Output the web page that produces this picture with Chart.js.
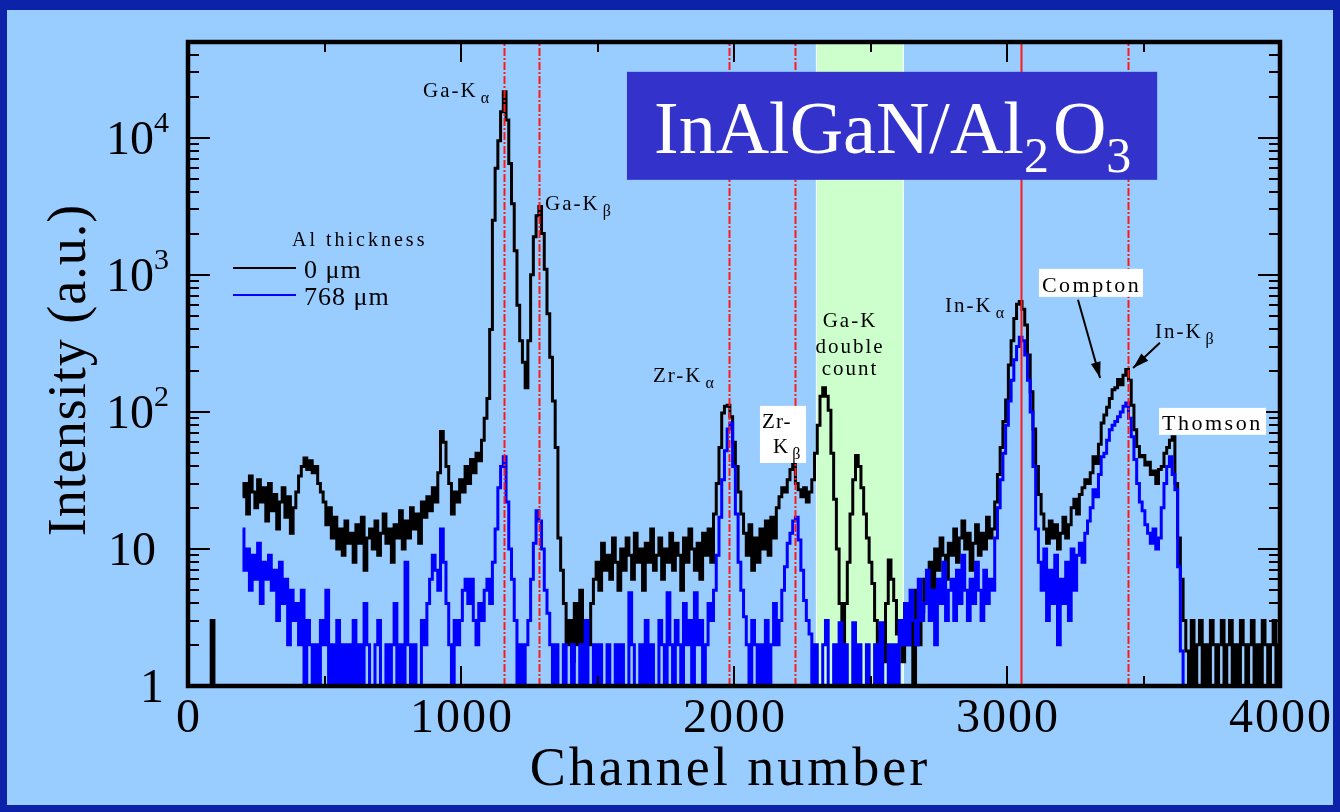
<!DOCTYPE html>
<html>
<head>
<meta charset="utf-8">
<script src="https://cdn.jsdelivr.net/npm/chart.js@4.4.1/dist/chart.umd.min.js"></script>
<style>
  html, body { margin: 0; padding: 0; background: #0c22a8; }
  #wrap { width: 1340px; height: 812px; }
</style>
</head>
<body>
<div id="wrap"><canvas id="spectrum" width="1340" height="812"></canvas></div>
<script>
// spectra, one value every 10 channels (0.5 = empty channel, below the axis)
const start0 = 80;
const step = 10;
const counts0um = [
  0.5,3,0.5,null,null,null,null,null,null,null,null,null,
  24,30,18,34,26,20,32,22,28,16, 30,19,25,14,22,28,17,24,13,20,
  26,34,40,46,38,44,36,40,30,26, 22,15,20,12,17,10,14,9,16,11,
  13,8,15,11,17,7,12,14,10,16, 9,13,18,11,14,8,15,12,19,10,
  16,12,20,14,18,11,22,17,24,19, 28,22,36,72,60,40,30,18,26,22,
  32,26,40,30,45,36,50,44,62,90, 125,400,2500,6000,9500,15500,21700,13500,6500,3300,
  1500,600,330,230,150,330,1000,1900,2700,3150, 2000,1100,520,250,120,55,12,7,4,2,
  3,1.5,4,2,5,1,3,2,4,6, 8,5,11,7,9,6,12,8,5,10,
  7,12,9,6,13,8,10,5,11,8, 14,7,9,12,6,10,8,13,7,11,
  9,5,12,8,14,10,7,11,6,13, 9,14,8,18,30,55,98,110,112,92,
  60,40,26,18,13,9,15,7,12,8, 14,10,16,9,17,12,20,24,28,26,
  32,38,42,30,27,24,28,22,26,32, 50,80,130,150,130,103,50,23,10,4,
  1.8,4,8,18,32,48,40,28,18,12, 8,5.6,3,1,2.5,1.5,4,8.3,6,4.2,
  2.4,3,1.5,4,2,3,1,5,2,3.5, 6,4,8,5,10,7,12,9,6,11,
  9,14,8,12,16,10,13,7,11,15, 9,13,10,17,12,14,22,35,55,85,
  122,220,330,480,610,640,560,430,260,140, 75,40,25,18,14,11,16,12,15,10,
  13,17,12,15,20,23,18,25,28,32, 30,36,47,42,58,83,95,108,125,145,
  150,172,158,185,204,170,112,74,56,47, 48,41,43,35,37,30,38,40,50,55,
  62,66,30,12,6,3,1.8,1,3,1, 2,3,1,2,1,3,2,1,2,3,
  1,2,3,1,2,1,3,2,1,2, 3,1,2,1,3,2,1,2,3,1,
  2
];
const start768 = 200;
const counts768um = [
  14,7,10,5,9,6,11,4,8,6, 9,5,7,3,8,4,6,2,5,3,
  4,2,5,1,3,2,0.5,2,1,3, 2,5,1,2,0.5,3,1,2,0.5,2,
  1,3,0.5,2,1,4,2,0.5,1,2, 3,1,0.5,2,1,2,4,1,2,0.5,
  8,2,1,2,0.5,1,3,2,4,6, 9,7,5,14,8,4,2,1,3,2,
  3,5,6,4,6,3,2,4,3,5, 6,4,8,14,28,40,47,22,10,6,
  3,1,2,0.5,2,3,6,11,19,16, 10,5,3.4,2,1,2,0.5,1,2,1,
  0.5,2,1,0.5,2,1,3,1,0.5,2, 1,2,0.5,1,2,1,0.5,2,1,2,
  1,0.5,4.8,2,1,0.5,2,1,3,1, 2,0.5,1,3,2,1,4.8,2,1,3,
  2,1,4,2,3,1,4.8,2,3,1, 2,4,3,5,9,17,32,52,75,83,
  40,18,8,5,3.2,2,1,3,2,1, 2,0.5,3,1,2,4,2,3,5,7.4,
  11,13,16,17,11.6,7,4.2,3,2.4,1, 2,0.5,1,2,3,1,0.5,2,1,2.9,
  1,2,0.5,1,2.9,1,2,0.5,1,2, 1,0.5,2,1,2.9,1,0.5,2,1,2,
  1,3,2,4,2,5,3,2,6,3, 4,7,3,5,2,6,4,8,3,5,
  6,3,7,4,9,5,3,6,4,8, 5,3,7,4,6,5,12,20,32,50,
  80,120,170,240,300,350,330,260,170,100, 40,14,8,5,10,3,7,4,9,2,
  6,4,8,3,10,5,9,11,8,13, 16,20,27,24,35,47,50,62,74,80,
  85,92,100,110,116,90,66,45,30,22, 19,15,13,11,14,10,12,20,30,40,
  47,35,27,7.4,1.8,0.5,0.5
];

// line positions (channel), the In-Ka one is solid
const lineChannels = [1157, 1286, 1982, 2223, 3051, 3443];
const solidLines = [3051];
const doubleCountBand = [2300, 2622];
const xTickValues = [0, 1000, 2000, 3000, 4000];
const yDecades = [0, 1, 2, 3, 4];

const toPoints = (first, values) => values.map((v, i) => ({ x: first + i * step, y: v }));

const serif = '"Liberation Serif", "DejaVu Serif", serif';
const font = (size) => size + 'px ' + serif;

const pageBackground = {
  id: 'pageBackground',
  beforeDraw(chart) {
    const ctx = chart.ctx;
    ctx.save();
    ctx.fillStyle = '#0c22a8';
    ctx.fillRect(0, 0, chart.width, chart.height);
    ctx.fillStyle = '#99ccff';
    ctx.fillRect(7, 10, 1326, 795);
    ctx.restore();
  },
  beforeDatasetsDraw(chart) {
    const { ctx, chartArea: a, scales: { x } } = chart;
    ctx.save();
    const x0 = x.getPixelForValue(doubleCountBand[0]);
    const x1 = x.getPixelForValue(doubleCountBand[1]);
    ctx.fillStyle = '#ccffcc';
    ctx.fillRect(x0, a.top, x1 - x0, a.bottom - a.top);
    ctx.strokeStyle = '#ffffff';
    ctx.lineWidth = 1;
    ctx.strokeRect(x0 + 0.5, a.top, x1 - x0 - 1, a.bottom - a.top);
    ctx.restore();
  }
};

const sublabel = (ctx, x, y, main, sub, size) => {
  ctx.font = font(size);
  ctx.fillText(main, x, y);
  const w = ctx.measureText(main).width;
  ctx.font = font(Math.round(size * 0.75));
  ctx.fillText(sub, x + w + 3, y + Math.round(size * 0.3));
};

const arrow = (ctx, x0, y0, x1, y1) => {
  ctx.beginPath();
  ctx.moveTo(x0, y0);
  ctx.lineTo(x1, y1);
  ctx.stroke();
  const ang = Math.atan2(y1 - y0, x1 - x0);
  const len = 16, wid = 5;
  ctx.beginPath();
  ctx.moveTo(x1, y1);
  ctx.lineTo(x1 - len * Math.cos(ang) + wid * Math.sin(ang), y1 - len * Math.sin(ang) - wid * Math.cos(ang));
  ctx.lineTo(x1 - len * Math.cos(ang) - wid * Math.sin(ang), y1 - len * Math.sin(ang) + wid * Math.cos(ang));
  ctx.closePath();
  ctx.fill();
};

const decorations = {
  id: 'decorations',
  afterDatasetsDraw(chart) {
    const { ctx, chartArea: a, scales: { x, y } } = chart;
    const px = (v) => x.getPixelForValue(v);
    const py = (v) => y.getPixelForValue(v);
    ctx.save();

    // red reference lines
    ctx.strokeStyle = '#ff1a1a';
    ctx.lineWidth = 2;
    lineChannels.forEach((c) => {
      ctx.setLineDash(solidLines.includes(c) ? [] : [8, 2, 2, 2]);
      ctx.beginPath();
      ctx.moveTo(Math.round(px(c)) + 0.5, a.bottom);
      ctx.lineTo(Math.round(px(c)) + 0.5, a.top);
      ctx.stroke();
    });
    ctx.setLineDash([]);

    // ticks, inside the frame
    ctx.strokeStyle = '#000';
    ctx.lineWidth = 2;
    for (let c = 0; c <= 4000; c += 500) {
      const len = c % 1000 === 0 ? 20 : 10;
      const xx = Math.round(px(c));
      ctx.beginPath();
      ctx.moveTo(xx, a.bottom); ctx.lineTo(xx, a.bottom - len);
      ctx.moveTo(xx, a.top); ctx.lineTo(xx, a.top + len);
      ctx.stroke();
    }
    yDecades.forEach((d) => {
      for (let m = 1; m <= 9; m++) {
        const v = m * Math.pow(10, d);
        if (v > y.max) break;
        const yy = Math.round(py(v));
        const len = m === 1 ? 22 : 11;
        ctx.beginPath();
        ctx.moveTo(a.left, yy); ctx.lineTo(a.left + len, yy);
        ctx.moveTo(a.right, yy); ctx.lineTo(a.right - len, yy);
        ctx.stroke();
      }
    });

    // frame
    ctx.lineWidth = 4.5;
    ctx.strokeRect(a.left, a.top, a.right - a.left, a.bottom - a.top);

    // tick labels
    ctx.fillStyle = '#000';
    ctx.textBaseline = 'alphabetic';
    ctx.font = font(48);
    ctx.textAlign = 'center';
    ctx.letterSpacing = '2px';
    xTickValues.forEach((v) => ctx.fillText(String(v), px(v) + 1, a.bottom + 46));
    ctx.letterSpacing = '0px';
    ctx.textAlign = 'right';
    yDecades.forEach((d) => {
      const yy = py(Math.pow(10, d));
      ctx.font = font(48);
      if (d === 0) {
        ctx.fillText('1', 164, yy + 16);
      } else if (d === 1) {
        ctx.fillText('10', 156, yy + 16);
      } else {
        ctx.fillText('10', 154, yy + 16);
        ctx.textAlign = 'left';
        ctx.font = font(30);
        ctx.fillText(String(d), 154, yy - 6);
        ctx.textAlign = 'right';
      }
    });

    // axis titles
    ctx.textAlign = 'center';
    ctx.font = font(54);
    ctx.letterSpacing = '3px';
    ctx.fillText('Channel number', 730, 785);
    ctx.letterSpacing = '1px';
    ctx.save();
    ctx.translate(85, 370);
    ctx.rotate(-Math.PI / 2);
    ctx.fillText('Intensity (a.u.)', 0, 0);
    ctx.restore();

    // peak labels
    ctx.textAlign = 'left';
    ctx.letterSpacing = '2px';
    sublabel(ctx, px(861), py(19900), 'Ga-K', '\u03b1', 21);
    sublabel(ctx, px(1308), py(2980), 'Ga-K', '\u03b2', 21);
    sublabel(ctx, px(1703), py(166), 'Zr-K', '\u03b1', 21);
    sublabel(ctx, px(2773), py(537), 'In-K', '\u03b1', 21);
    sublabel(ctx, px(3542), py(347), 'In-K', '\u03b2', 21);

    ctx.textAlign = 'center';
    ctx.font = font(21);
    ctx.fillText('Ga-K', px(2425), py(417));
    ctx.fillText('double', px(2425), py(270));
    ctx.fillText('count', px(2425), py(186));

    // boxed labels
    const box = (c0, v0, c1, v1) => {
      ctx.fillStyle = '#ffffff';
      ctx.fillRect(px(c0), py(v0), px(c1) - px(c0), py(v1) - py(v0));
      ctx.fillStyle = '#000';
    };
    ctx.textAlign = 'left';
    box(2095, 110.6, 2264, 42.4);
    ctx.letterSpacing = '1px';
    ctx.font = font(21);
    ctx.fillText('Zr-', px(2103), py(76.4));
    sublabel(ctx, px(2143), py(50.2), 'K', '\u03b2', 21);
    ctx.letterSpacing = '2.5px';
    box(3117, 1106, 3498, 691);
    ctx.font = font(22);
    ctx.fillText('Compton', px(3128), py(751));
    box(3557, 107, 3949, 68);
    ctx.font = font(22);
    ctx.fillText('Thomson', px(3568), py(73.9));
    ctx.letterSpacing = '0px';

    // arrows
    ctx.strokeStyle = '#000';
    ctx.fillStyle = '#000';
    ctx.lineWidth = 2;
    arrow(ctx, px(3260), py(657), px(3341), py(177));
    arrow(ctx, px(3560), py(319), px(3462), py(209));

    // legend
    const lx = a.left + 45;
    ctx.font = font(20);
    ctx.letterSpacing = '3px';
    ctx.fillText('Al thickness', lx + 59, 246);
    ctx.letterSpacing = '1px';
    ctx.lineWidth = 2;
    ctx.strokeStyle = '#000';
    ctx.beginPath(); ctx.moveTo(lx, 268); ctx.lineTo(lx + 63, 268); ctx.stroke();
    ctx.strokeStyle = '#0000ff';
    ctx.beginPath(); ctx.moveTo(lx, 295); ctx.lineTo(lx + 63, 295); ctx.stroke();
    ctx.font = font(26);
    ctx.fillText('0 \u03bcm', lx + 71, 278);
    ctx.fillText('768 \u03bcm', lx + 71, 305);
    ctx.letterSpacing = '0px';

    // title box
    const tx0 = px(1608), tx1 = px(3550), ty0 = py(30300), ty1 = py(4935);
    ctx.fillStyle = '#3333cc';
    ctx.fillRect(tx0, ty0, tx1 - tx0, ty1 - ty0);
    ctx.fillStyle = '#ffffff';
    let cx = tx0 + 27;
    const base = ty0 + 81;
    const part = (t, size, dy) => {
      ctx.font = font(size);
      ctx.fillText(t, cx, base + dy);
      cx += ctx.measureText(t).width;
    };
    part('InAlGaN/Al', 74, 0);
    part('2', 50, 19);
    cx += 4;
    part('O', 74, 0);
    part('3', 50, 19);

    ctx.restore();
  }
};

new Chart(document.getElementById('spectrum').getContext('2d'), {
  type: 'line',
  data: {
    datasets: [
      {
        label: '768 \u03bcm',
        data: toPoints(start768, counts768um),
        borderColor: '#0000ff',
        borderWidth: 3,
        stepped: 'middle',
        pointRadius: 0,
        order: 0
      },
      {
        label: '0 \u03bcm',
        data: toPoints(start0, counts0um),
        borderColor: '#000000',
        borderWidth: 3,
        stepped: 'middle',
        pointRadius: 0,
        spanGaps: false,
        order: 1
      }
    ]
  },
  options: {
    responsive: false,
    animation: false,
    devicePixelRatio: 1,
    layout: { padding: { left: 188, right: 60, top: 42, bottom: 126 } },
    plugins: { legend: { display: false }, tooltip: { enabled: false } },
    scales: {
      x: { type: 'linear', min: 0, max: 4000, display: false },
      y: { type: 'logarithmic', min: 1, max: 50000, display: false }
    }
  },
  plugins: [pageBackground, decorations]
});
</script>
</body>
</html>
